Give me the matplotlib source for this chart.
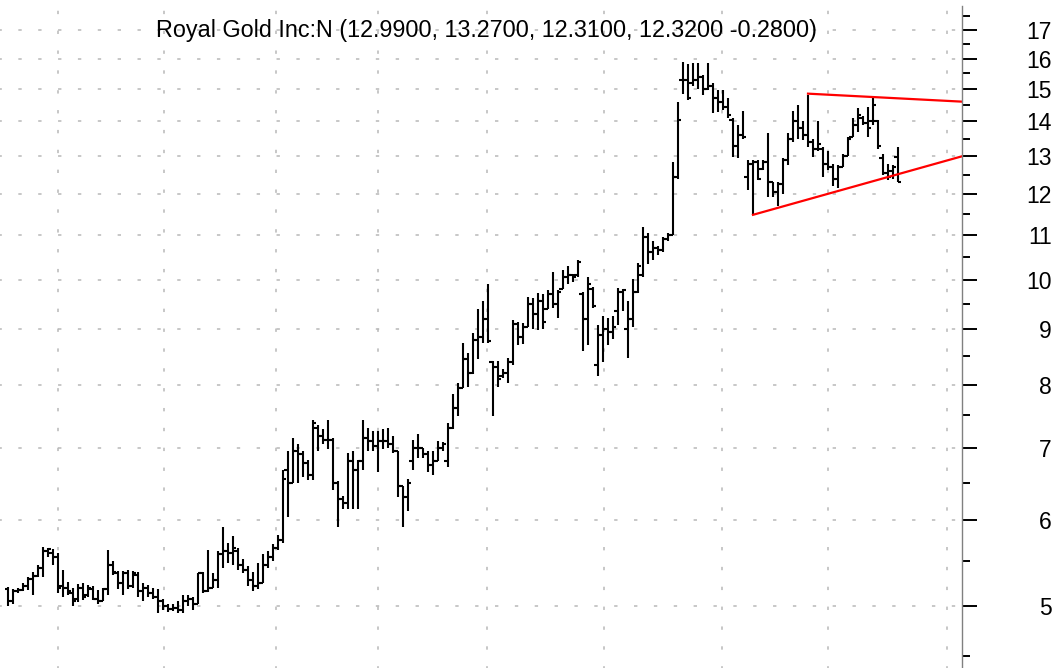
import numpy as np
import matplotlib.pyplot as plt
from matplotlib.ticker import FixedLocator, NullFormatter

plt.rcParams['font.family'] = ['Liberation Sans', 'DejaVu Sans']

title = "Royal Gold Inc:N (12.9900, 13.2700, 12.3100, 12.3200 -0.2800)"

# daily bars
opens = [5.18, 5.05, 5.16, 5.17, 5.22, 5.30, 5.33, 5.42, 5.62, 5.60,
         5.55, 5.22, 5.20, 5.14, 5.08, 5.20, 5.12, 5.18, 5.08, 5.05,
         5.18, 5.45, 5.36, 5.25, 5.36, 5.22, 5.34, 5.16, 5.20, 5.14,
         5.10, 5.05, 5.00, 4.97, 4.98, 4.96, 5.05, 5.08, 5.02, 5.36,
         5.16, 5.20, 5.28, 5.58, 5.62, 5.60, 5.62, 5.45, 5.40, 5.28,
         5.22, 5.25, 5.45, 5.55, 5.65, 5.75, 6.68, 6.50, 6.95, 6.90,
         6.78, 6.60, 7.30, 7.18, 7.12, 7.12, 6.50, 6.28, 6.22, 6.80,
         6.68, 6.80, 7.15, 7.10, 7.02, 7.10, 7.10, 7.05, 6.95, 6.45,
         6.30, 6.80, 7.00, 7.00, 6.90, 6.75, 6.80, 7.00, 6.80, 7.30,
         7.62, 7.95, 8.45, 8.20, 8.80, 8.85, 9.20, 8.40, 8.30, 8.15,
         8.20, 8.40, 9.10, 8.85, 9.05, 9.50, 9.30, 9.55, 9.40, 9.70,
         9.50, 9.80, 10.05, 10.10, 10.10, 9.70, 9.20, 9.80, 8.35, 8.90,
         9.00, 8.95, 9.35, 9.75, 9.00, 9.20, 9.75, 10.10, 10.95, 10.60,
         10.70, 10.65, 10.90, 11.00, 12.45, 15.30, 15.30, 15.20, 15.30, 15.40,
         15.00, 15.10, 14.70, 14.60, 14.45, 14.05, 13.30, 13.60, 12.45, 12.80,
         12.85, 12.65, 12.85, 12.30, 12.05, 12.25, 12.90, 13.50, 14.00, 13.80,
         13.60, 13.40, 13.20, 13.20, 12.80, 12.70, 12.40, 12.70, 13.00, 13.55,
         13.90, 14.10, 13.95, 14.00, 14.00, 12.95, 12.55, 12.60, 12.99]
highs = [5.21, 5.18, 5.20, 5.25, 5.32, 5.38, 5.46, 5.67, 5.66, 5.64,
         5.60, 5.40, 5.26, 5.20, 5.24, 5.25, 5.23, 5.22, 5.17, 5.20,
         5.63, 5.50, 5.39, 5.39, 5.40, 5.39, 5.37, 5.25, 5.23, 5.20,
         5.18, 5.08, 5.02, 5.02, 5.05, 5.12, 5.12, 5.10, 5.36, 5.37,
         5.63, 5.36, 5.62, 5.92, 5.72, 5.80, 5.66, 5.52, 5.44, 5.38,
         5.48, 5.58, 5.62, 5.70, 5.82, 6.68, 6.95, 7.15, 7.05, 6.95,
         6.82, 7.42, 7.35, 7.28, 7.43, 7.14, 6.52, 6.32, 6.92, 6.95,
         6.82, 7.43, 7.30, 7.25, 7.25, 7.28, 7.30, 7.18, 6.95, 6.45,
         6.55, 7.12, 7.20, 7.00, 6.95, 6.95, 7.10, 7.08, 7.38, 7.85,
         8.03, 8.74, 8.55, 8.94, 9.40, 9.55, 9.90, 8.42, 8.42, 8.28,
         8.46, 9.18, 9.15, 9.12, 9.65, 9.62, 9.72, 9.70, 9.78, 10.17,
         9.78, 10.20, 10.30, 10.12, 10.43, 9.75, 10.05, 9.85, 9.08, 9.25,
         9.22, 9.25, 9.82, 9.80, 9.55, 10.02, 10.37, 11.18, 11.05, 10.85,
         10.75, 10.95, 11.05, 12.85, 14.60, 15.90, 15.80, 15.85, 15.85, 15.45,
         15.85, 15.20, 14.97, 14.97, 14.70, 14.10, 13.90, 14.30, 12.90, 12.90,
         12.90, 12.90, 13.65, 12.30, 12.30, 12.95, 13.65, 14.30, 14.50, 14.00,
         14.82, 13.50, 14.00, 13.25, 13.15, 12.80, 12.75, 13.05, 13.55, 14.10,
         14.40, 14.15, 14.45, 14.70, 14.05, 13.05, 12.80, 12.75, 13.27]
lows = [5.00, 5.02, 5.14, 5.16, 5.17, 5.12, 5.32, 5.32, 5.55, 5.45,
        5.14, 5.10, 5.12, 5.00, 5.04, 5.06, 5.10, 5.06, 5.02, 5.05,
        5.12, 5.34, 5.18, 5.12, 5.18, 5.20, 5.10, 5.05, 5.10, 5.08,
        4.93, 4.96, 4.94, 4.95, 4.93, 4.93, 5.00, 4.96, 5.02, 5.14,
        5.15, 5.20, 5.20, 5.42, 5.48, 5.46, 5.40, 5.36, 5.22, 5.16,
        5.18, 5.25, 5.42, 5.50, 5.63, 5.72, 6.04, 6.50, 6.50, 6.58,
        6.54, 6.54, 6.95, 7.05, 6.98, 6.40, 5.92, 6.14, 6.14, 6.14,
        6.14, 6.68, 6.95, 6.95, 6.65, 6.98, 7.00, 6.92, 6.30, 5.92,
        6.12, 6.68, 6.85, 6.85, 6.65, 6.60, 6.80, 6.95, 6.72, 7.28,
        7.48, 7.95, 7.97, 8.18, 8.45, 8.75, 8.75, 7.48, 7.97, 8.12,
        8.03, 8.35, 8.70, 8.72, 9.05, 9.00, 8.98, 9.00, 9.40, 9.42,
        9.22, 9.80, 9.90, 9.95, 10.05, 8.60, 8.70, 9.42, 8.15, 8.40,
        8.70, 8.82, 9.08, 9.35, 8.47, 9.05, 9.73, 10.05, 10.35, 10.42,
        10.55, 10.60, 10.85, 11.00, 12.40, 14.85, 14.65, 15.10, 15.00, 14.82,
        14.95, 14.25, 14.28, 14.34, 14.10, 12.98, 12.95, 13.50, 12.10, 11.48,
        12.35, 12.62, 11.93, 11.93, 11.70, 12.00, 12.75, 13.40, 13.50, 13.45,
        13.25, 12.98, 13.15, 12.45, 12.62, 12.20, 12.15, 12.70, 13.00, 13.55,
        13.70, 13.90, 13.55, 13.90, 13.20, 12.50, 12.36, 12.40, 12.31]
closes = [5.05, 5.16, 5.17, 5.22, 5.30, 5.33, 5.42, 5.62, 5.64, 5.55,
          5.20, 5.20, 5.16, 5.05, 5.20, 5.10, 5.20, 5.08, 5.05, 5.18,
          5.45, 5.38, 5.25, 5.36, 5.22, 5.36, 5.16, 5.20, 5.14, 5.10,
          5.05, 5.00, 4.97, 4.98, 4.96, 5.05, 5.08, 5.02, 5.36, 5.16,
          5.20, 5.28, 5.58, 5.62, 5.60, 5.65, 5.45, 5.40, 5.28, 5.22,
          5.25, 5.45, 5.55, 5.65, 5.75, 6.55, 6.50, 6.95, 6.90, 6.78,
          6.60, 7.38, 7.18, 7.12, 7.12, 6.50, 6.28, 6.22, 6.80, 6.68,
          6.80, 7.15, 7.10, 7.02, 7.10, 7.10, 7.05, 6.95, 6.45, 6.30,
          6.50, 7.00, 7.00, 6.90, 6.75, 6.80, 7.00, 7.05, 7.30, 7.62,
          7.95, 8.45, 8.20, 8.80, 8.85, 9.20, 8.78, 8.30, 8.10, 8.20,
          8.40, 9.10, 8.85, 9.05, 9.50, 9.30, 9.55, 9.15, 9.70, 9.50,
          9.75, 10.05, 10.10, 10.05, 10.38, 9.20, 9.90, 9.45, 8.90, 9.00,
          8.95, 9.05, 9.75, 9.78, 9.20, 9.75, 10.30, 10.95, 10.60, 10.70,
          10.65, 10.90, 11.00, 12.45, 14.05, 15.30, 14.70, 15.30, 15.40, 15.00,
          15.10, 14.70, 14.60, 14.45, 14.20, 13.30, 13.60, 13.55, 12.80, 12.85,
          12.40, 12.85, 12.30, 12.05, 12.25, 12.90, 13.50, 14.00, 13.80, 13.60,
          13.40, 13.20, 13.35, 12.80, 12.70, 12.40, 12.70, 13.00, 13.50, 13.90,
          14.20, 13.95, 13.80, 14.50, 13.30, 12.55, 12.45, 12.70, 12.32]

# month boundaries in bar units
month_lines = [10, 31.2, 53.6, 74, 95.8, 119.2, 142.8, 164, 187.8]
price_ticks = [5, 6, 7, 8, 9, 10, 11, 12, 13, 14, 15, 16, 17]
half_ticks = [4.5, 5.5, 6.5, 7.5, 8.5, 9.5, 10.5, 11.5, 12.5, 13.5,
              14.5, 15.5, 16.5, 17.5]

# triangle trend lines
upper_x = [160, 190.8]
upper_y = [14.85, 14.60]
lower_x = [149, 190.8]
lower_y = [11.48, 13.00]

fig = plt.figure(figsize=(10.61, 6.68), dpi=100)
ax = fig.add_axes([0, 0, 962 / 1061, 662 / 668])
ax.set_yscale('log')
ax.set_xlim(-1.6, 190.8)
ax.set_ylim(4.383, 17.89)

dots = (1, (2.2, 10.8))
for p in price_ticks:
    ax.axhline(p, color='#b8b8b8', lw=1.1, ls=dots, zorder=0)
for m in month_lines:
    ax.axvline(m, color='#b8b8b8', lw=1.1, ls=dots, zorder=0)

x = np.arange(len(closes))
ax.vlines(x, lows, highs, color='black', lw=1.5)
ax.hlines(opens, x - 0.7, x, color='black', lw=1.5)
ax.hlines(closes, x, x + 0.7, color='black', lw=1.5)

ax.plot(upper_x, upper_y, color='red', lw=1.6)
ax.plot(lower_x, lower_y, color='red', lw=1.6)

for s in ['left', 'top', 'bottom']:
    ax.spines[s].set_visible(False)
ax.spines['right'].set_color('#808080')
ax.spines['right'].set_linewidth(1.0)

ax.set_xticks([])
ax.yaxis.tick_right()
ax.yaxis.set_major_locator(FixedLocator(price_ticks))
ax.yaxis.set_minor_locator(FixedLocator(half_ticks))
ax.yaxis.set_minor_formatter(NullFormatter())
ax.set_yticks(price_ticks, [str(p) for p in price_ticks], ha='right')
ax.tick_params(axis='y', which='major', length=10.8, width=1.4,
               pad=54, labelsize=16.5, color='black')
ax.tick_params(axis='y', which='minor', length=5.8, width=1.4, color='black')

fig.text(487 / 1061, 1 - 30 / 668, title, ha='center', va='center',
         fontsize=16.8)

fig.savefig('out.png', dpi=100)
